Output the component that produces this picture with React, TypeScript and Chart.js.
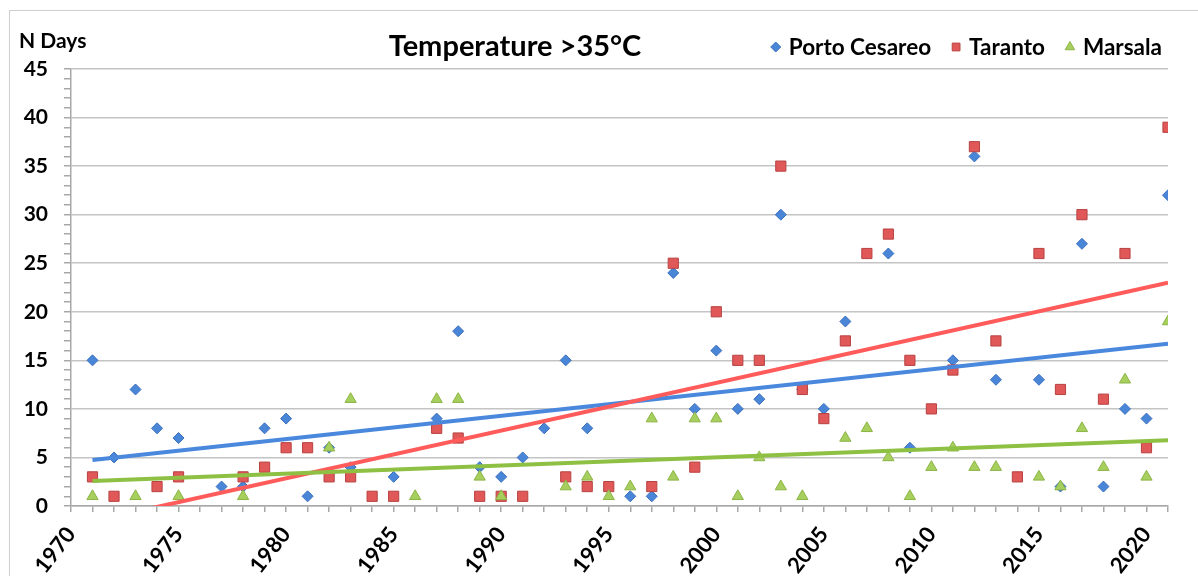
import React, { useEffect, useRef } from 'react';
import { Chart, registerables } from 'chart.js';
import { drawPoint } from 'chart.js/helpers';

Chart.register(...registerables);

const chartTitle = 'Temperature >35°C';
const yAxisTitle = 'N Days';
const seriesNames = ['Porto Cesareo', 'Taranto', 'Marsala'];

const portoYears = [1971, 1972, 1973, 1974, 1975, 1977, 1978, 1979, 1980, 1981, 1982, 1983, 1985, 1987, 1988, 1989, 1990, 1991, 1992, 1993, 1994, 1996, 1997, 1998, 1999, 2000, 2001, 2002, 2003, 2004, 2005, 2006, 2008, 2009, 2011, 2012, 2013, 2015, 2016, 2017, 2018, 2019, 2020, 2021];
const portoValues = [15, 5, 12, 8, 7, 2, 2, 8, 9, 1, 6, 4, 3, 9, 18, 4, 3, 5, 8, 15, 8, 1, 1, 24, 10, 16, 10, 11, 30, 12, 10, 19, 26, 6, 15, 36, 13, 13, 2, 27, 2, 10, 9, 32];

const tarantoYears = [1971, 1972, 1974, 1975, 1978, 1979, 1980, 1981, 1982, 1983, 1984, 1985, 1987, 1988, 1989, 1990, 1991, 1993, 1994, 1995, 1997, 1998, 1999, 2000, 2001, 2002, 2003, 2004, 2005, 2006, 2007, 2008, 2009, 2010, 2011, 2012, 2013, 2014, 2015, 2016, 2017, 2018, 2019, 2020, 2021];
const tarantoValues = [3, 1, 2, 3, 3, 4, 6, 6, 3, 3, 1, 1, 8, 7, 1, 1, 1, 3, 2, 2, 2, 25, 4, 20, 15, 15, 35, 12, 9, 17, 26, 28, 15, 10, 14, 37, 17, 3, 26, 12, 30, 11, 26, 6, 39];

const marsalaYears = [1971, 1973, 1975, 1978, 1982, 1983, 1986, 1987, 1988, 1989, 1990, 1993, 1994, 1995, 1996, 1997, 1998, 1999, 2000, 2001, 2002, 2003, 2004, 2006, 2007, 2008, 2009, 2010, 2011, 2012, 2013, 2015, 2016, 2017, 2018, 2019, 2020, 2021];
const marsalaValues = [1, 1, 1, 1, 6, 11, 1, 11, 11, 3, 1, 2, 3, 1, 2, 9, 3, 9, 9, 1, 5, 2, 1, 7, 8, 5, 1, 4, 6, 4, 4, 3, 2, 8, 4, 13, 3, 19];

// Linear trend lines: value at the first and last year
const trendYears = [1971, 2021];
const portoTrend = [4.74, 16.7];
const tarantoTrend = [-1.57, 23.0];
const marsalaTrend = [2.57, 6.76];

const xMin = 1970;
const xMax = 2021;
const yMin = 0;
const yMax = 45;

const FONT = 'Lato, "Open Sans", sans-serif';

function toPoints(xs: number[], ys: number[]) {
  return xs.map((x, i) => ({ x, y: ys[i] }));
}

const markerStyles = [
  { pointStyle: 'rectRot', radius: 5.5, fill: '#4a86d8', border: '#3c70bd', line: '#4a88dd' },
  { pointStyle: 'rect', radius: 7.2, fill: '#e05858', border: '#b84242', line: '#ff5b5b' },
  { pointStyle: 'triangle', radius: 6.5, fill: '#a6cf5e', border: '#8cb446', line: '#8dc043' },
];

const headerPlugin = {
  id: 'headerPlugin',
  afterDraw(chart: any) {
    const ctx = chart.ctx;
    ctx.save();
    ctx.fillStyle = '#000';
    ctx.textBaseline = 'middle';
    ctx.font = `bold 21px ${FONT}`;
    ctx.textAlign = 'left';
    ctx.fillText(yAxisTitle, 19, 41);
    ctx.font = `bold 29px ${FONT}`;
    ctx.textAlign = 'center';
    ctx.fillText(chartTitle, 515, 47);

    ctx.font = `bold 22.5px ${FONT}`;
    ctx.textAlign = 'left';
    const gapMarkerText = 8;
    const markerW = 10;
    const itemGap = 20;
    const widths = seriesNames.map((s) => markerW + gapMarkerText + ctx.measureText(s).width);
    const total = widths.reduce((a, b) => a + b, 0) + itemGap * (seriesNames.length - 1);
    let x = 1162 - total;
    const y = 48;
    seriesNames.forEach((name, i) => {
      const st = markerStyles[i];
      ctx.fillStyle = st.fill;
      ctx.strokeStyle = st.border;
      drawPoint(ctx, { pointStyle: st.pointStyle, radius: i === 0 ? 5 : 5.5, rotation: 0, borderWidth: 1 } as any, x + markerW / 2, y - 1);
      ctx.fillStyle = '#000';
      ctx.fillText(name, x + markerW + gapMarkerText, y);
      x += widths[i] + itemGap;
    });
    ctx.restore();
  },
};

export default function App() {
  const ref = useRef<HTMLCanvasElement | null>(null);

  useEffect(() => {
    if (!ref.current) return;
    const seriesX = [portoYears, tarantoYears, marsalaYears];
    const seriesY = [portoValues, tarantoValues, marsalaValues];
    const trends = [portoTrend, tarantoTrend, marsalaTrend];

    // later series drawn on top (higher order = drawn first)
    const pointSets = seriesNames.map((name, i) => ({
      type: 'scatter' as const,
      label: name,
      data: toPoints(seriesX[i], seriesY[i]),
      pointStyle: markerStyles[i].pointStyle,
      pointRadius: markerStyles[i].radius,
      pointBackgroundColor: markerStyles[i].fill,
      pointBorderColor: markerStyles[i].border,
      pointBorderWidth: 1,
      showLine: false,
      order: 10 - i,
    }));

    const trendSets = seriesNames.map((name, i) => ({
      type: 'line' as const,
      label: name + ' trend',
      data: toPoints(trendYears, trends[i]),
      borderColor: markerStyles[i].line,
      borderWidth: 4,
      pointRadius: 0,
      fill: false,
      clip: 0,
      order: 3 - i,
    }));

    const chart = new Chart(ref.current, {
      type: 'scatter',
      data: { datasets: [...pointSets, ...trendSets] as any },
      plugins: [headerPlugin],
      options: {
        animation: false,
        responsive: false,
        devicePixelRatio: 1,
        layout: { padding: { top: 69, right: 30, left: 0, bottom: 0 } },
        plugins: {
          legend: { display: false },
          title: { display: false },
          tooltip: { enabled: false },
        },
        scales: {
          x: {
            type: 'linear',
            min: xMin,
            max: xMax,
            afterFit: (scale: any) => {
              scale.height = 114;
              scale.paddingLeft = 0;
              scale.paddingRight = 0;
            },
            ticks: {
              stepSize: 1,
              autoSkip: false,
              minRotation: 52,
              maxRotation: 52,
              color: '#000',
              padding: 10,
              font: { family: FONT, size: 22, weight: 'bold' },
              callback: (v: any) => (Number(v) % 5 === 0 ? String(v) : ''),
            },
            grid: {
              drawOnChartArea: false,
              drawTicks: true,
              tickLength: 6,
              tickColor: '#a8a8a8',
              lineWidth: 1.5,
            },
            border: { color: '#a8a8a8', width: 1.5 },
          },
          y: {
            type: 'linear',
            min: yMin,
            max: yMax,
            afterFit: (scale: any) => {
              scale.width = 71;
            },
            ticks: {
              stepSize: 1,
              autoSkip: false,
              color: '#000',
              padding: 16,
              font: { family: FONT, size: 21, weight: 'bold' },
              callback: (v: any) => (Number(v) % 5 === 0 ? String(v) : ''),
            },
            grid: {
              color: (c: any) => (c.tick && c.tick.value % 5 === 0 ? '#c4c4c4' : 'rgba(0,0,0,0)'),
              tickColor: '#a8a8a8',
              tickLength: 7,
              lineWidth: 1.5,
            },
            border: { color: '#a8a8a8', width: 1.5 },
          },
        },
      } as any,
    });
    return () => chart.destroy();
  }, []);

  return (
    <div style={{ position: 'absolute', left: 0, top: 0, width: 1198, height: 576, overflow: 'hidden', background: '#fff' }}>
      <div style={{ position: 'absolute', left: 9, top: 10, width: 1300, height: 800, border: '1.5px solid #cfcfcf' }} />
      <canvas ref={ref} width={1198} height={620} style={{ position: 'absolute', left: 0, top: 0, width: 1198, height: 620 }} />
    </div>
  );
}
